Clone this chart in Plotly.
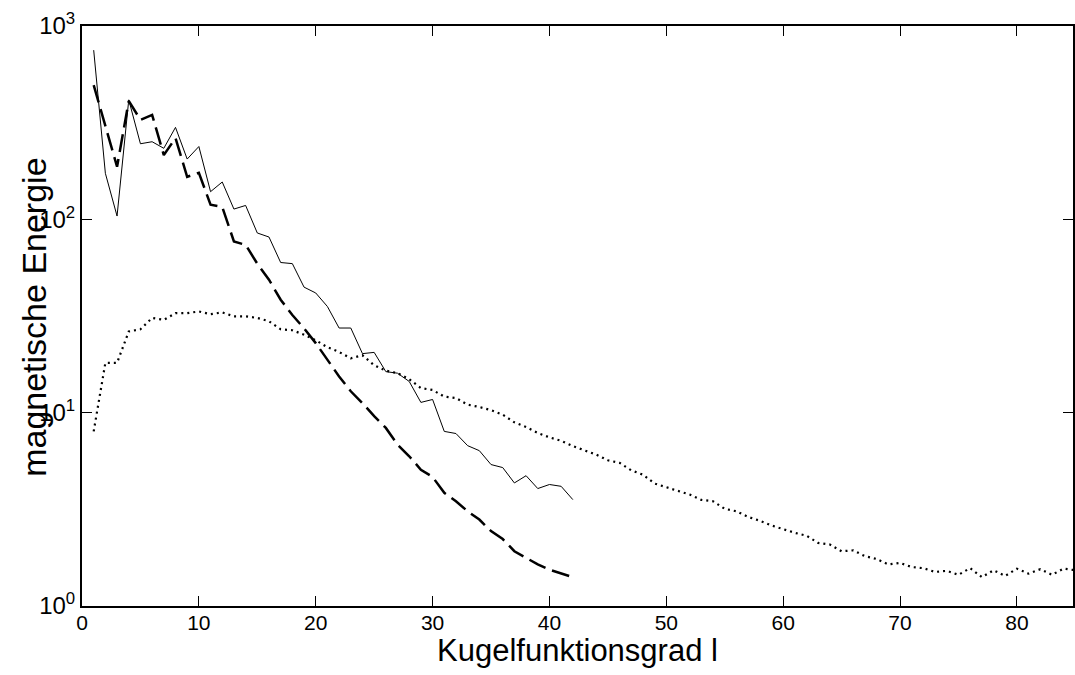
import plotly.graph_objects as go

# Kugelfunktionsgrad l
l_solid = list(range(1, 43))
solid = [750, 173, 104, 415, 246, 252, 233, 299, 205, 238,
         139, 156, 113, 118, 85, 81, 59.8, 59, 44.6, 41.6,
         35.4, 27.4, 27.4, 20.2, 20.5, 16.3, 16.0, 14.5, 11.3, 11.7,
         8.0, 7.8, 6.75, 6.36, 5.39, 5.2, 4.33, 4.72, 4.05, 4.25,
         4.16, 3.55]

l_dash = list(range(1, 43))
dashed = [495, 300, 187, 410, 327, 347, 215, 263, 166, 174,
          119, 116, 76.8, 73.8, 59, 48.7, 38.4, 32, 27.3, 22.9,
          18.8, 15.4, 12.9, 11.2, 9.6, 8.34, 6.84, 5.95, 5.07, 4.65,
          3.85, 3.48, 3.09, 2.8, 2.44, 2.22, 1.92, 1.77, 1.64, 1.54,
          1.48, 1.41]

l_dot = list(range(1, 86))
dotted = [8.0, 18.1, 18.1, 26.3, 27.0, 30.9, 30.2, 32.7, 32.7, 33.4,
          32.3, 33.0, 31.5, 31.5, 30.9, 29.7, 27.0, 26.7, 25.3, 23.7,
          21.8, 20.6, 19.1, 19.8, 17.6, 16.5, 16.0, 14.9, 13.4, 13.1,
          12.1, 11.9, 11.0, 10.7, 10.3, 9.77, 8.91, 8.43, 7.85, 7.45,
          7.15, 6.72, 6.38, 6.07, 5.67, 5.5, 5.03, 4.78, 4.3, 4.11,
          3.92, 3.77, 3.54, 3.48, 3.18, 3.09, 2.89, 2.76, 2.61, 2.49,
          2.39, 2.31, 2.12, 2.08, 1.92, 1.94, 1.81, 1.75, 1.64, 1.67,
          1.59, 1.57, 1.50, 1.52, 1.45, 1.57, 1.41, 1.53, 1.43, 1.56,
          1.47, 1.55, 1.45, 1.56, 1.53]

x_ticks = [0, 10, 20, 30, 40, 50, 60, 70, 80]
y_ticks = [1, 10, 100, 1000]
y_ticktext = ["10<sup>0</sup>", "10<sup>1</sup>", "10<sup>2</sup>", "10<sup>3</sup>"]

x_title = "Kugelfunktionsgrad l"
y_title = "magnetische Energie"

fig = go.Figure()
fig.add_trace(go.Scatter(x=l_dot, y=dotted, mode="lines",
                         line=dict(color="black", width=2.2, dash="2px,4px")))
fig.add_trace(go.Scatter(x=l_dash, y=dashed, mode="lines",
                         line=dict(color="black", width=2.5, dash="18px,7px")))
fig.add_trace(go.Scatter(x=l_solid, y=solid, mode="lines",
                         line=dict(color="black", width=1)))

font_family = "Liberation Sans, Arial, sans-serif"
plot_h = 675 - 26 - 68.5

fig.update_layout(
    width=1075, height=675,
    margin=dict(l=82, r=0, t=26, b=68.5),
    paper_bgcolor="white", plot_bgcolor="white",
    showlegend=False,
    font=dict(family=font_family, color="black", size=22),
    xaxis=dict(
        range=[0, 84.8], tickvals=x_ticks, ticks="inside", ticklen=10,
        tickwidth=1, tickcolor="black", showline=True, linecolor="black",
        linewidth=2, mirror="ticks", showgrid=False, zeroline=False,
        tickfont=dict(size=21), ticklabelstandoff=-3,
    ),
    yaxis=dict(
        type="log", range=[0, 3], tickvals=y_ticks, ticktext=y_ticktext,
        ticks="inside", ticklen=10, tickwidth=1, tickcolor="black",
        showline=True, linecolor="black", linewidth=2, mirror="ticks",
        showgrid=False, zeroline=False, tickfont=dict(size=24),
    ),
    annotations=[
        dict(text=x_title, xref="paper", yref="paper", x=0.5,
             y=-(651 - 606.5) / plot_h, xanchor="center", yanchor="middle",
             showarrow=False, font=dict(size=31)),
        dict(text=y_title, xref="paper", yref="paper",
             x=-(82 - 34) / 993, y=(606.5 - 318) / plot_h,
             xanchor="center", yanchor="middle", textangle=-90,
             showarrow=False, font=dict(size=34)),
    ],
)

fig.write_html("out.html")
